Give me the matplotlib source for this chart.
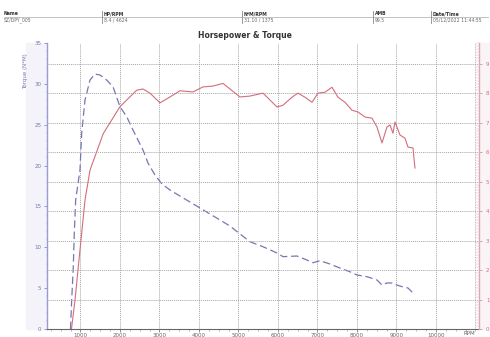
import matplotlib
matplotlib.use("Agg")
import matplotlib.pyplot as plt
from matplotlib.lines import Line2D
from matplotlib.ticker import MultipleLocator, FixedLocator

# ---- data ----
hp_rpm = [772, 861, 944, 1030, 1114, 1241, 1577, 2000, 2423, 2582, 2759, 3013, 3266,
          3519, 3848, 4101, 4354, 4608, 4785, 5038, 5291, 5620, 5975, 6127, 6354,
          6506, 6684, 6861, 7013, 7190, 7367, 7519, 7696, 7873, 8025, 8203, 8380,
          8506, 8633, 8759, 8835, 8911, 8962, 9089, 9215, 9291, 9418, 9468]
hp_val = [0.0, 0.98, 2.11, 3.25, 4.37, 5.39, 6.63, 7.54, 8.10, 8.14, 8.00, 7.67, 7.87,
          8.08, 8.04, 8.21, 8.24, 8.33, 8.14, 7.87, 7.90, 8.00, 7.53, 7.59, 7.86,
          8.00, 7.86, 7.69, 8.00, 8.03, 8.20, 7.86, 7.69, 7.42, 7.36, 7.19, 7.15,
          6.85, 6.31, 6.85, 6.92, 6.64, 7.02, 6.58, 6.47, 6.17, 6.14, 5.46]

tq_rpm = [747, 777, 818, 843, 878, 987, 1030, 1114, 1241, 1367, 1494, 1663, 1823,
          2000, 2170, 2329, 2582, 2709, 2886, 3063, 3266, 3519, 3772, 4025, 4278,
          4532, 4785, 5038, 5291, 5620, 5975, 6127, 6481, 6734, 6886, 7063, 7316,
          7570, 7823, 8000, 8253, 8506, 8633, 8759, 8911, 9013, 9139, 9291, 9418]
tq_val = [0.0, 3.55, 7.62, 11.75, 15.79, 19.46, 23.98, 28.02, 30.47, 31.20, 31.08,
          30.47, 29.65, 27.20, 25.98, 24.35, 21.90, 20.31, 18.84, 17.74, 17.01,
          16.27, 15.54, 14.81, 14.07, 13.34, 12.60, 11.63, 10.68, 10.07, 9.30, 8.85,
          8.93, 8.44, 8.11, 8.36, 7.95, 7.46, 7.00, 6.61, 6.40, 6.00, 5.38, 5.63,
          5.63, 5.38, 5.18, 5.02, 4.41]

x_ticks = [1000, 2000, 3000, 4000, 5000, 6000, 7000, 8000, 9000, 10000]
x_tick_labels = ["1000", "2000", "3000", "4000", "5000", "6000", "7000", "8000",
                 "9000", "10000"]
left_ticks = [0, 5, 10, 15, 20, 25, 30, 35]
right_ticks = [0, 1, 2, 3, 4, 5, 6, 7, 8, 9]

header_labels = ["Name", "HP/RPM", "N*M/RPM", "AMB", "Date/Time"]
header_values = ["SZ/DPY_005", "8.4 / 4624", "31.10 / 1375", "99.5",
                 "05/12/2022 11:44:55"]

title = "Horsepower & Torque"

# ---- figure ----
fig = plt.figure(figsize=(4.9, 3.37), dpi=100)
fig.patch.set_facecolor("white")

L, R, T, B = 47 / 490, 479 / 490, 1 - 43 / 337, 1 - 329 / 337
ax = fig.add_axes([L, B, R - L, T - B])
ax2 = ax.twinx()

grid_c = "#a5a5a5"
blue = "#7676b4"
red = "#d26e7c"

ax.set_xlim(152, 11089)
ax.set_ylim(0, 35)
ax2.set_ylim(0, 9.7)

ax.plot(tq_rpm, tq_val, color=blue, lw=0.9, ls=(0, (6, 3)), zorder=3)
ax2.plot(hp_rpm, hp_val, color=red, lw=0.8, zorder=3)

# ticks
ax.xaxis.set_major_locator(FixedLocator(x_ticks))
ax.set_xticklabels(x_tick_labels)
ax.xaxis.set_minor_locator(MultipleLocator(250))
ax.set_yticks(left_ticks)
ax2.set_yticks(right_ticks)
ax.yaxis.set_minor_locator(MultipleLocator(1))
ax2.yaxis.set_minor_locator(MultipleLocator(0.1))

ax.tick_params(axis="x", labelsize=4, colors="#666666", length=2, width=0.5,
               pad=1, direction="out")
ax.tick_params(axis="x", which="minor", length=1.5, width=0.4, colors="#888888")
ax.tick_params(axis="y", labelsize=4, labelcolor=blue, color=blue, length=2,
               width=0.5, pad=2)
ax.tick_params(axis="y", which="minor", length=1, width=0.3, color="#aaaaaa")
ax2.tick_params(axis="y", labelsize=4, labelcolor=red, color="#999999", length=2,
                width=0.5, pad=3)
ax2.tick_params(axis="y", which="minor", length=2, width=0.3, color="#bbbbbb",
                direction="in")

# RPM label at the right end
ax.text(11000, -0.3, "RPM", fontsize=4, color="#666666", ha="right", va="top")
ax.axvline(11000, color=grid_c, lw=0.6, ls=(0, (1, 1)), zorder=1)

# grids
ax.grid(True, axis="x", color=grid_c, lw=0.7, ls=(0, (1, 1)))
ax2.grid(True, axis="y", color=grid_c, lw=0.7, ls=(0, (1, 1)))
ax.set_axisbelow(True)

for a in (ax, ax2):
    a.spines["top"].set_visible(False)
ax.spines["left"].set_color("#9a9ad8")
ax.spines["left"].set_linewidth(1.0)
ax2.spines["left"].set_visible(False)
ax2.spines["right"].set_color("#e3a6b4")
ax2.spines["right"].set_linewidth(1.0)
ax.spines["right"].set_visible(False)
ax.spines["bottom"].set_color("#666666")
ax.spines["bottom"].set_linewidth(0.8)
ax2.spines["bottom"].set_visible(False)

ax.set_ylabel("Torque (N*M)", fontsize=4, color=blue, labelpad=2)
ax.yaxis.set_label_coords(-0.045, 0.9)

# shaded side bands
fig.add_artist(plt.Rectangle((26 / 490, B), (47 - 26) / 490, T - B,
                             transform=fig.transFigure, color="#f3f3f9", zorder=-5))
fig.add_artist(plt.Rectangle((479 / 490, B), 10 / 490, T - B,
                             transform=fig.transFigure, color="#fbf4f6", zorder=-5))

# title
fig.text(245 / 490, 1 - 36 / 337, title, fontsize=5.5, fontweight="bold",
         ha="center", va="center", color="#333333")

# header table
col_x = [4, 104, 244, 375, 433]
sep_x = [101.5, 241.5, 373, 431]
for cx, lab, val in zip(col_x, header_labels, header_values):
    fig.text(cx / 490, 1 - 13.5 / 337, lab, fontsize=3.3, fontweight="bold",
             color="#333333", ha="left", va="center")
    fig.text(cx / 490, 1 - 20 / 337, val, fontsize=3.3, color="#666666",
             ha="left", va="center")
fig.add_artist(Line2D([4 / 490, 488 / 490], [1 - 16.5 / 337, 1 - 16.5 / 337],
                      color="#aaaaaa", lw=0.5, transform=fig.transFigure))
for sx in sep_x:
    fig.add_artist(Line2D([sx / 490, sx / 490], [1 - 11 / 337, 1 - 23 / 337],
                          color="#888888", lw=0.6, transform=fig.transFigure))

fig.savefig("out.png", dpi=100, facecolor="white")
